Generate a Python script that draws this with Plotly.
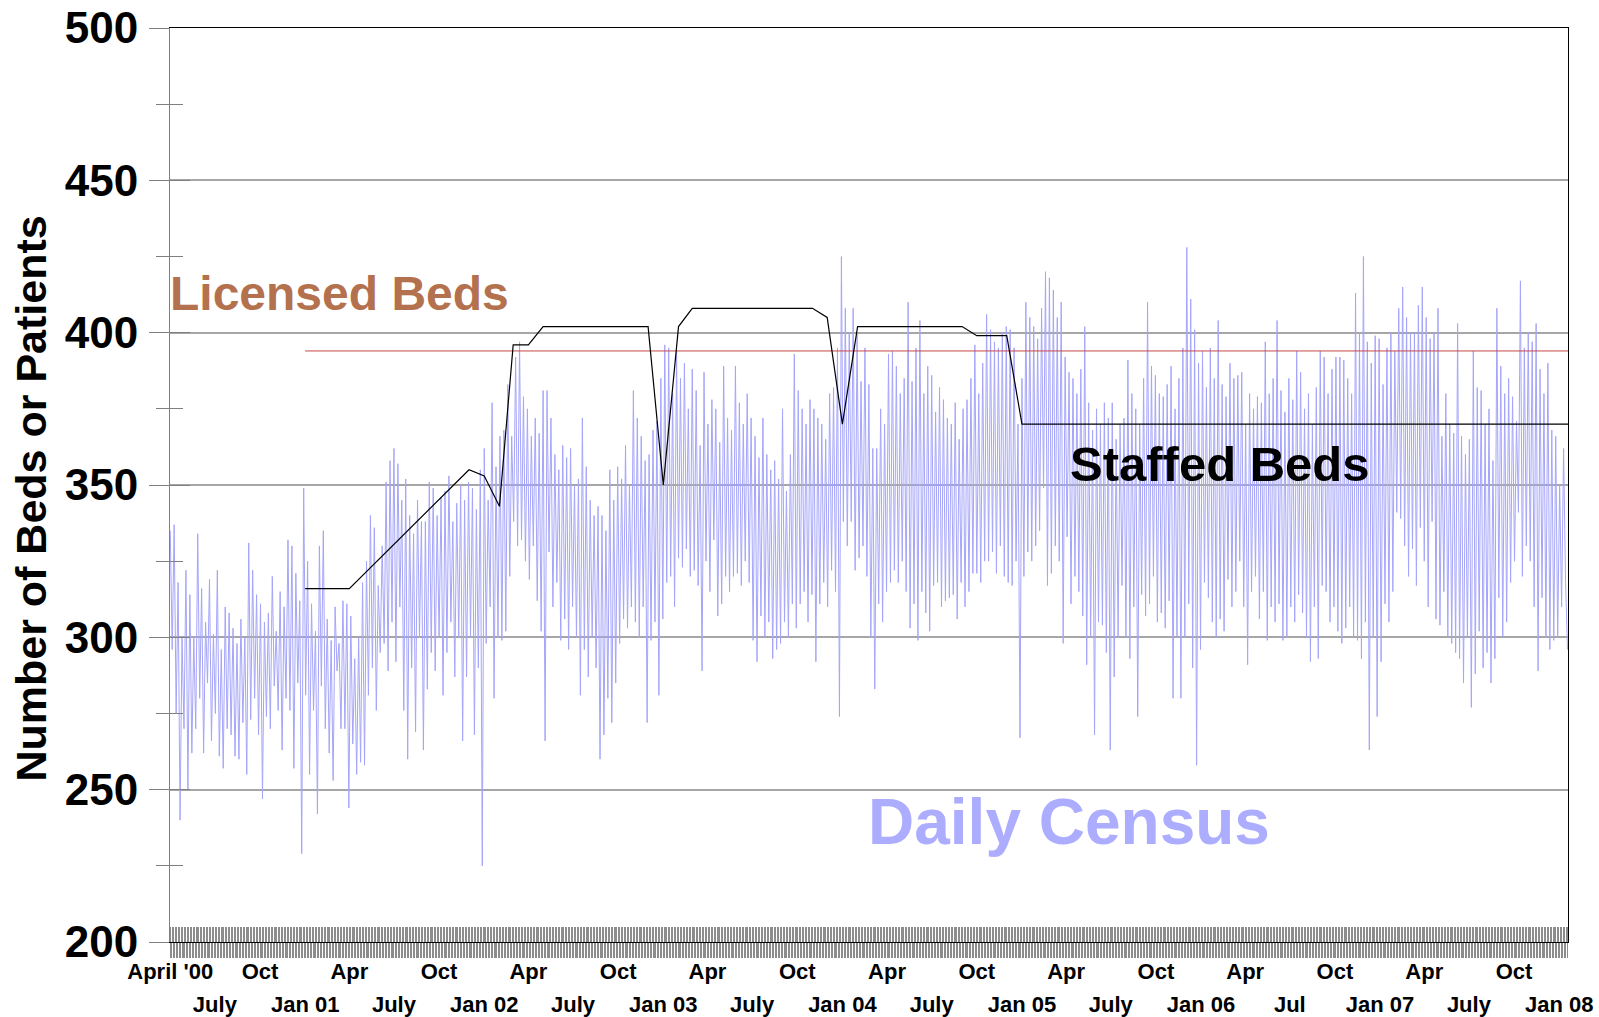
import pandas as pd
import plotly.graph_objects as go

# ---------------- data ----------------
census_start = "2000-04-01"
census_step_days = 4
census = [
    335, 296, 337, 275, 318, 240, 300, 270, 322, 250,
    314, 262, 300, 270, 334, 280, 316, 262, 305, 285,
    319, 266, 301, 275, 322, 261, 296, 257, 310, 270,
    308, 268, 303, 261, 298, 260, 306, 272, 300, 255,
    331, 273, 322, 280, 314, 268, 311, 247, 305, 274,
    308, 270, 320, 284, 302, 276, 315, 263, 310, 280,
    332, 276, 330, 257, 321, 285, 312, 229, 349, 281,
    325, 255, 311, 276, 302, 242, 330, 284, 335, 270,
    306, 262, 299, 253, 310, 289, 298, 270, 312,
    270, 311, 244, 307, 265, 293, 255, 300, 259, 318,
    258, 325, 281, 340, 290, 336, 276, 317, 295, 330,
    298, 351, 289, 358, 305, 362, 292, 357, 310, 345,
    276, 352, 260, 340, 290, 334, 269, 345, 300, 338,
    263, 338, 283, 351, 295, 349, 289, 340, 300, 346,
    281, 348, 295, 353, 305, 338, 287, 344, 300, 350,
    266, 345, 287, 351, 300, 349, 268, 342, 290, 355,
    225, 362, 298, 345, 310, 377, 280, 356, 300, 366,
    299, 368, 302, 383, 320, 366, 338, 392, 330,
    397, 332, 379, 325, 375, 319, 366, 330, 372, 312,
    367, 302, 381, 266, 381, 328, 372, 310, 360, 318,
    355, 299, 363, 306, 359, 296, 362, 310, 350, 300,
    352, 281, 372, 296, 356, 287, 345, 300, 340, 290,
    343, 260, 340, 268, 335, 280, 355, 272, 345, 285,
    356, 298, 352, 306, 363, 303, 350, 310, 381, 305,
    372, 300, 366, 310, 358, 272, 360, 299, 368, 305,
    371, 281, 385, 306, 396, 318, 395, 320, 380, 310,
    394, 326, 385, 323, 390, 329, 375, 320, 388,
    322, 381, 317, 363, 289, 387, 325, 370, 315, 378,
    332, 375, 307, 364, 311, 389, 320, 372, 315, 368,
    320, 389, 321, 377, 317, 370, 325, 380, 318, 372,
    299, 366, 292, 359, 307, 372, 300, 360, 305, 355,
    293, 358, 296, 352, 298, 375, 305, 348, 300, 360,
    311, 393, 303, 381, 311, 375, 315, 370, 305, 378,
    314, 375, 292, 372, 311, 370, 318, 365, 310, 380,
    322, 382, 315, 395, 274, 425, 338, 408, 330, 400,
    338, 408, 322, 400, 326, 384, 330, 395, 320,
    383, 300, 362, 283, 362, 311, 375, 305, 370, 315,
    393, 318, 394, 322, 389, 318, 380, 325, 385, 315,
    410, 303, 384, 311, 395, 299, 404, 315, 380, 308,
    389, 302, 386, 317, 374, 318, 382, 310, 378, 312,
    372, 313, 370, 314, 377, 306, 365, 318, 375, 310,
    378, 315, 385, 321, 396, 321, 380, 318, 390, 325,
    406, 325, 401, 328, 397, 321, 395, 330, 400, 320,
    402, 318, 401, 317, 395, 325, 370, 267, 385, 320,
    410, 328, 405, 325, 402, 330, 398, 335, 408,
    349, 420, 317, 418, 321, 414, 330, 405, 325, 410,
    298, 392, 333, 387, 311, 385, 320, 380, 315, 388,
    307, 402, 291, 377, 300, 368, 268, 375, 305, 370,
    304, 377, 295, 372, 263, 377, 287, 365, 300, 370,
    317, 372, 300, 391, 293, 380, 310, 375, 274, 370,
    314, 385, 307, 410, 311, 389, 320, 386, 305, 380,
    308, 379, 303, 383, 312, 389, 280, 375, 300, 385,
    280, 395, 300, 428, 311, 411, 290, 401, 258, 390,
    296, 394, 318, 382, 313, 395, 305, 385, 300,
    404, 306, 383, 302, 379, 319, 390, 310, 385, 315,
    386, 325, 387, 310, 370, 291, 380, 315, 375, 320,
    379, 306, 377, 315, 397, 299, 380, 310, 385, 305,
    404, 311, 381, 299, 374, 300, 385, 310, 378, 305,
    394, 314, 387, 308, 375, 300, 380, 292, 370, 310,
    382, 293, 394, 317, 392, 315, 380, 305, 388, 310,
    392, 302, 392, 298, 391, 303, 385, 310, 380, 300,
    413, 299, 400, 293, 425, 305, 397, 263, 390, 300,
    399, 274, 398, 292, 383, 311, 395, 305, 400,
    315, 394, 341, 408, 339, 415, 330, 405, 320, 400,
    329, 400, 317, 409, 336, 415, 325, 405, 310, 398,
    338, 400, 306, 408, 304, 366, 315, 380, 300, 370,
    298, 367, 295, 403, 293, 366, 285, 360, 300, 365,
    277, 394, 288, 382, 302, 381, 290, 370, 295, 375,
    285, 358, 293, 408, 313, 389, 300, 380, 305, 385,
    318, 379, 325, 371, 341, 417, 320, 395, 330, 400,
    325, 397, 310, 403, 289, 388, 313, 380, 300, 390,
    296, 368, 299, 366, 300, 350, 310, 362, 318, 296,
]

staffed_dates = [
    "2001-01-01", "2001-04-01", "2001-12-01", "2002-01-01", "2002-02-01",
    "2002-03-01", "2002-04-01", "2002-05-01", "2002-12-01", "2003-01-01",
    "2003-02-01", "2003-03-01", "2003-11-01", "2003-12-01", "2004-01-01",
    "2004-02-01", "2004-09-01", "2004-10-01", "2004-12-01", "2005-01-01",
    "2008-01-19",
]
staffed_beds = [316, 316, 355, 353, 343, 396, 396, 402, 402, 350,
                402, 408, 408, 405, 370, 402, 402, 399, 399, 370, 370]

licensed_dates = ["2001-01-01", "2008-01-19"]
licensed_beds = [394, 394]

top_tick_dates = ["2000-04-01", "2000-10-01", "2001-04-01", "2001-10-01",
                  "2002-04-01", "2002-10-01", "2003-04-01", "2003-10-01",
                  "2004-04-01", "2004-10-01", "2005-04-01", "2005-10-01",
                  "2006-04-01", "2006-10-01", "2007-04-01", "2007-10-01"]
top_tick_labels = ["April '00", "Oct", "Apr", "Oct", "Apr", "Oct", "Apr", "Oct",
                   "Apr", "Oct", "Apr", "Oct", "Apr", "Oct", "Apr", "Oct"]
bottom_tick_dates = ["2000-07-01", "2001-01-01", "2001-07-01", "2002-01-01",
                     "2002-07-01", "2003-01-01", "2003-07-01", "2004-01-01",
                     "2004-07-01", "2005-01-01", "2005-07-01", "2006-01-01",
                     "2006-07-01", "2007-01-01", "2007-07-01", "2008-01-01"]
bottom_tick_labels = ["July", "Jan 01", "July", "Jan 02", "July", "Jan 03",
                      "July", "Jan 04", "July", "Jan 05", "July", "Jan 06",
                      "Jul", "Jan 07", "July", "Jan 08"]

y_title = "Number of Beds or Patients"
x_range = ["2000-03-31 12:00", "2008-01-19"]
y_range = [200, 500]

# ---------------- figure ----------------
FONT = "Liberation Sans, Arial, sans-serif"
census_dates = pd.date_range(start=census_start, periods=len(census),
                             freq=f"{census_step_days}D")

fig = go.Figure()
fig.add_trace(go.Scatter(x=census_dates, y=census, mode="lines",
                         name="Daily Census", xaxis="x", yaxis="y",
                         line=dict(color="rgb(165,165,250)", width=1)))
fig.add_trace(go.Scatter(x=licensed_dates, y=licensed_beds, mode="lines",
                         name="Licensed Beds", xaxis="x3", yaxis="y2",
                         line=dict(color="rgb(200,70,70)", width=1)))
fig.add_trace(go.Scatter(x=staffed_dates, y=staffed_beds, mode="lines",
                         name="Staffed Beds", xaxis="x4", yaxis="y3",
                         line=dict(color="black", width=1.2)))

day_ms = 86400000
band_color = "#8c8c8c"
gray = "#808080"
label_font = dict(family=FONT, size=22, weight="bold", color="black")

fig.update_layout(
    template="none",
    width=1599, height=1017,
    margin=dict(l=170, r=31, t=28, b=75, autoexpand=False),
    paper_bgcolor="white", plot_bgcolor="white",
    showlegend=False,
    font=dict(family=FONT, color="black"),
    # daily-tick band (outside major ticks + inside minor ticks)
    xaxis=dict(type="date", range=x_range, automargin=False,
               tickmode="linear", tick0="2000-04-01", dtick=3 * day_ms,
               ticks="outside", ticklen=15, tickwidth=1, tickcolor=band_color,
               minor=dict(tickmode="linear", tick0="2000-04-02 12:00",
                          dtick=3 * day_ms, ticks="inside", ticklen=15,
                          tickwidth=1, tickcolor=band_color, showgrid=False),
               showticklabels=False, showgrid=False, zeroline=False,
               showline=True, linecolor="black", linewidth=1, mirror=True),
    xaxis3=dict(type="date", range=x_range, overlaying="x", anchor="y",
                side="bottom", automargin=False, ticklabeloverflow="allow",
                tickmode="array", tickvals=top_tick_dates,
                ticktext=top_tick_labels, ticks="", ticklabelstandoff=14,
                tickfont=label_font,
                showgrid=False, zeroline=False, showline=False),
    xaxis4=dict(type="date", range=x_range, overlaying="x", anchor="y",
                side="bottom", automargin=False, ticklabeloverflow="allow",
                tickmode="array", tickvals=bottom_tick_dates,
                ticktext=bottom_tick_labels, ticks="", ticklabelstandoff=47,
                tickfont=label_font,
                showgrid=False, zeroline=False, showline=False),
    yaxis=dict(range=y_range, automargin=False, ticklabeloverflow="allow",
               tickmode="linear", tick0=200, dtick=50,
               ticks="outside", ticklen=20, tickwidth=1, tickcolor=gray,
               minor=dict(dtick=25, tick0=200, ticks="outside", ticklen=13,
                          tickwidth=1, tickcolor=gray, showgrid=False),
               showgrid=True, gridcolor="#a6a6a6", gridwidth=1.5,
               zeroline=False, showline=True, linecolor=gray, linewidth=1,
               tickfont=dict(family=FONT, size=44, weight="bold", color="black"),
               ticklabelstandoff=2),
    yaxis2=dict(range=y_range, overlaying="y", anchor="x", side="left",
                automargin=False,
                tickmode="linear", tick0=200, dtick=50,
                ticks="inside", ticklen=20, tickwidth=1, tickcolor=gray,
                minor=dict(dtick=25, tick0=200, ticks="inside", ticklen=13,
                           tickwidth=1, tickcolor=gray, showgrid=False),
                showticklabels=False, showgrid=False, zeroline=False,
                showline=False),
    yaxis3=dict(range=y_range, overlaying="y", anchor="x", side="right",
                automargin=False,
                ticks="", showticklabels=False, showgrid=False,
                zeroline=False, showline=True, linecolor="black", linewidth=1),
)

# y-axis title (placed as rotated text so it sits exactly as in the source)
fig.add_annotation(x=-0.0997, y=0.4847, xref="paper", yref="paper",
                   text=y_title, showarrow=False, textangle=-90,
                   xanchor="center", yanchor="middle",
                   font=dict(family=FONT, size=43, weight="bold",
                             color="black"))
fig.add_annotation(x="2001-03-12", y=413, xref="x", yref="y",
                   text="Licensed Beds", showarrow=False,
                   xanchor="center", yanchor="middle",
                   font=dict(family=FONT, size=48, weight="bold",
                             color="#b4714e"))
fig.add_annotation(x="2006-02-09", y=357, xref="x", yref="y",
                   text="Staffed Beds", showarrow=False,
                   xanchor="center", yanchor="middle",
                   font=dict(family=FONT, size=49, weight="bold",
                             color="black"))
fig.add_annotation(x="2005-04-07", y=239.5, xref="x", yref="y",
                   text="Daily Census", showarrow=False,
                   xanchor="center", yanchor="middle",
                   font=dict(family=FONT, size=64, weight="bold",
                             color="#adadff"))

fig.write_html("out.html",
               config={"displayModeBar": False},
               post_script="document.body.style.margin='0';"
                           "document.body.style.overflow='hidden';")
